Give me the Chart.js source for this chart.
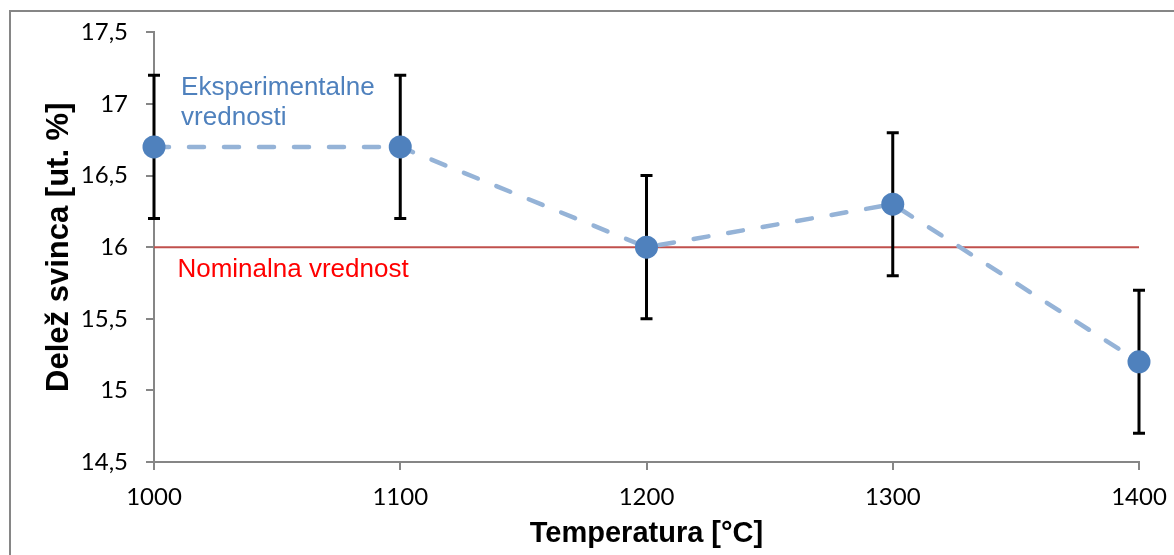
<!DOCTYPE html>
<html>
<head>
<meta charset="utf-8">
<script src="https://cdn.jsdelivr.net/npm/chart.js@4.4.1/dist/chart.umd.min.js"></script>
<style>
  html, body { margin: 0; padding: 0; background: #fff; }
  #wrap { width: 1174px; height: 555px; position: relative; }
</style>
</head>
<body>
<div id="wrap"><canvas id="chartContainer" width="1174" height="555"></canvas></div>
<script>
// data
const temps = [1000, 1100, 1200, 1300, 1400];
const lead = [16.7, 16.7, 16.0, 16.3, 15.2];
const leadErr = [0.5, 0.5, 0.5, 0.5, 0.5];
const nominalX = [1000, 1400];
const nominalY = [16, 16];
const yTicks = [14.5, 15, 15.5, 16, 16.5, 17, 17.5];

// text labels, placed in data units
const noteTexts = ['Eksperimentalne', 'vrednosti', 'Nominalna vrednost'];
const noteX = [1011, 1011, 1009.5];
const noteY = [17.06, 16.85, 15.79];
const noteColors = ['#4f81bd', '#4f81bd', '#ff0000'];

const axisGray = '#868686';

// error bars drawn under the blue series
const errorBars = {
    id: 'errorBars',
    beforeDatasetDraw(chart, args) {
        if (args.index !== 0) return;
        const ctx = chart.ctx;
        const xs = chart.scales.x, ys = chart.scales.y;
        ctx.save();
        ctx.strokeStyle = '#000';
        ctx.lineWidth = 3;
        for (let i = 0; i < temps.length; i++) {
            const px = xs.getPixelForValue(temps[i]);
            const top = ys.getPixelForValue(lead[i] + leadErr[i]);
            const bot = ys.getPixelForValue(lead[i] - leadErr[i]);
            ctx.beginPath();
            ctx.moveTo(px, top);
            ctx.lineTo(px, bot);
            ctx.moveTo(px - 6, top);
            ctx.lineTo(px + 6, top);
            ctx.moveTo(px - 6, bot);
            ctx.lineTo(px + 6, bot);
            ctx.stroke();
        }
        ctx.restore();
    }
};

// frame and the two text notes
const extras = {
    id: 'extras',
    beforeDraw(chart) {
        const ctx = chart.ctx;
        ctx.save();
        ctx.fillStyle = '#fff';
        ctx.fillRect(0, 0, chart.width, chart.height);
        ctx.strokeStyle = axisGray;
        ctx.lineWidth = 2;
        ctx.strokeRect(10, 11, 2000, 2000);
        ctx.restore();
    },
    afterDatasetsDraw(chart) {
        const ctx = chart.ctx;
        const xs = chart.scales.x, ys = chart.scales.y;
        ctx.save();
        ctx.font = '26px "Liberation Sans", Arial, sans-serif';
        ctx.textAlign = 'left';
        ctx.textBaseline = 'alphabetic';
        for (let i = 0; i < noteTexts.length; i++) {
            ctx.fillStyle = noteColors[i];
            ctx.fillText(noteTexts[i], xs.getPixelForValue(noteX[i]), ys.getPixelForValue(noteY[i]));
        }
        ctx.restore();
    }
};

var ctx = document.getElementById('chartContainer').getContext('2d');

window.myChart = new Chart(ctx, {
    type: 'scatter',
    data: {
        datasets: [
            {
                label: 'Eksperimentalne vrednosti',
                data: temps.map((t, i) => ({ x: t, y: lead[i] })),
                showLine: true,
                clip: false,
                borderColor: '#95b3d7',
                borderWidth: 4.5,
                borderDash: [15, 20],
                borderCapStyle: 'round',
                pointRadius: 11.5,
                pointBackgroundColor: '#4f81bd',
                pointBorderColor: '#4f81bd',
                pointBorderWidth: 0,
                order: 1
            },
            {
                label: 'Nominalna vrednost',
                data: nominalX.map((t, i) => ({ x: t, y: nominalY[i] })),
                showLine: true,
                clip: false,
                borderColor: '#c0504d',
                borderWidth: 2,
                pointRadius: 0,
                order: 2
            }
        ]
    },
    options: {
        responsive: false,
        animation: false,
        layout: { padding: { top: 30, right: 35, left: 0, bottom: 0 } },
        plugins: {
            legend: { display: false },
            tooltip: { enabled: false }
        },
        scales: {
            x: {
                type: 'linear',
                min: 1000,
                max: 1400,
                afterFit(scale) {
                    scale.height = 93;
                    scale.paddingLeft = 0;
                    scale.paddingRight = 0;
                },
                ticks: {
                    stepSize: 100,
                    padding: 13,
                    color: '#000',
                    font: { family: 'Lato, "Open Sans", sans-serif', size: 24 },
                    callback: v => String(v)
                },
                grid: { drawOnChartArea: false, tickLength: 8, color: axisGray, lineWidth: 2 },
                border: { color: axisGray, width: 2 },
                title: {
                    display: true,
                    text: 'Temperatura [°C]',
                    color: '#000',
                    padding: { top: 0, bottom: 4 },
                    font: { family: '"Liberation Sans", Arial, sans-serif', size: 29, weight: 'bold' }
                }
            },
            y: {
                min: 14.5,
                max: 17.5,
                afterFit(scale) { scale.width = 154; },
                afterBuildTicks(scale) { scale.ticks = yTicks.map(v => ({ value: v })); },
                ticks: {
                    padding: 18,
                    color: '#000',
                    font: { family: 'Lato, "Open Sans", sans-serif', size: 24 },
                    callback: v => String(v).replace('.', ',')
                },
                grid: { drawOnChartArea: false, tickLength: 8, color: axisGray, lineWidth: 2 },
                border: { color: axisGray, width: 2 },
                title: {
                    display: true,
                    text: 'Delež svinca [ut. %]',
                    color: '#000',
                    padding: { top: 41, bottom: 0 },
                    font: { family: '"Liberation Sans", Arial, sans-serif', size: 31, weight: 'bold' }
                }
            }
        }
    },
    plugins: [errorBars, extras]
});
</script>
</body>
</html>
